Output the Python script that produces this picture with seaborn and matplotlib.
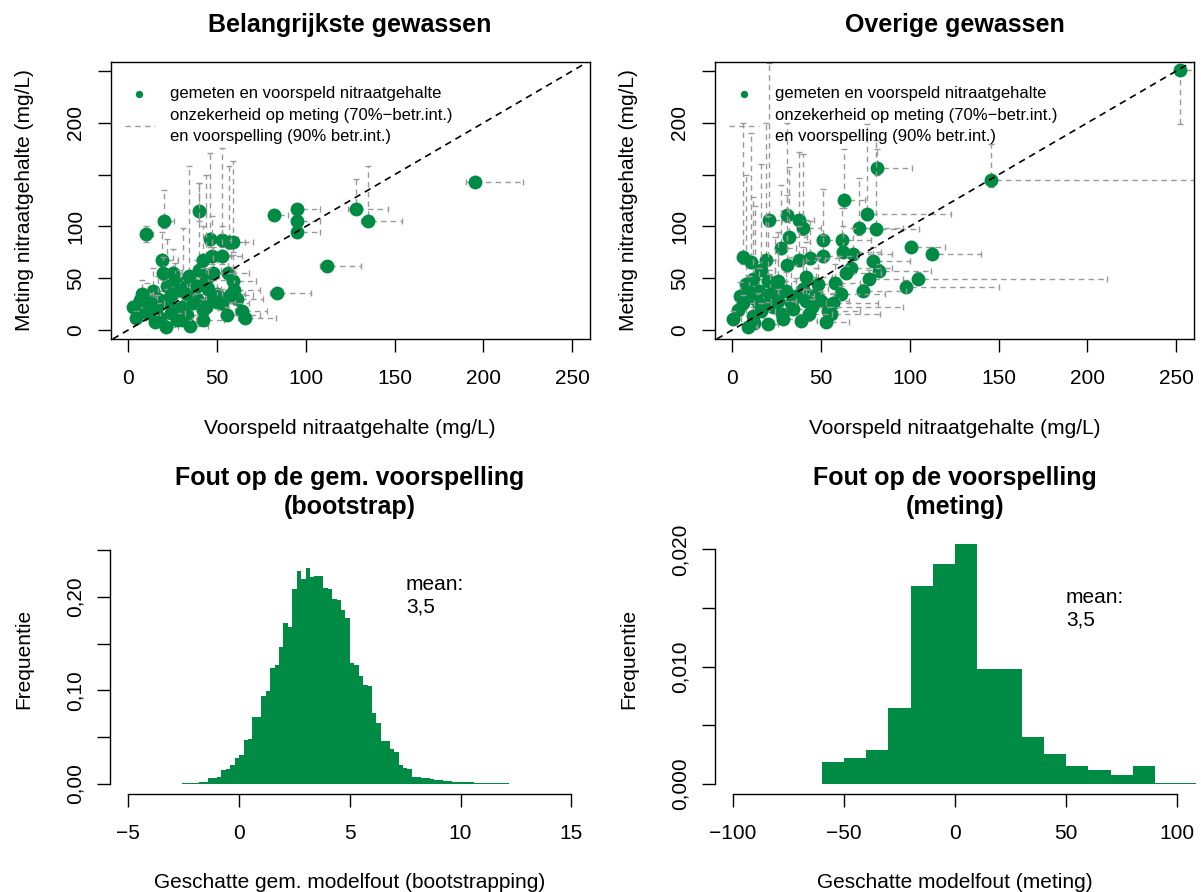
import numpy as np
import pandas as pd
import matplotlib
matplotlib.use("Agg")
import matplotlib.pyplot as plt
import seaborn as sns

# ---------------- data ----------------
# Top-left: "Belangrijkste gewassen"
tl_pred = [195, 82, 95, 95, 95, 128, 135, 112, 84, 40, 20, 10, 46, 57, 59, 53,
           14, 17, 22, 31, 39, 44, 56, 61, 7, 18, 26, 33, 46,
           2.5, 4.3, 6.6, 10.4, 10.4, 15, 16, 18.8, 19.7, 21, 21.6, 24.4, 25.4, 26.3,
           27.3, 29, 30, 33, 34, 35, 36.6, 38.5, 40, 42, 42, 42, 44, 47, 48, 50, 50,
           52.6, 52.6, 55.4, 57.3, 59, 59.6, 64, 66, 12, 8, 30, 24, 45]
tl_meas = [143, 111, 117, 105, 95, 117, 105, 62, 36, 115, 105, 93, 88, 85, 85, 87,
           38, 30, 42, 45, 30, 48, 55, 30, 18, 12, 20, 14, 28,
           22, 12, 29, 16, 31.5, 8, 22.5, 68, 55, 3, 29, 35, 55, 48,
           9.6, 38.6, 22.5, 35, 52, 4, 25.7, 42, 58, 9.6, 68, 19, 22.5, 71, 55, 35, 27,
           71, 26, 14.5, 34, 47, 39, 18, 12, 26, 35, 10, 16, 40]
tl_pred_lo = [190, 79, 92, 92, 92, 124, 131, 108, 80, 37, 17, 7, 43, 54, 56, 50,
              11, 14, 19, 28, 36, 41, 53, 58, 5, 15, 23, 30, 43,
              0, 2, 4, 8, 8, 12, 13, 16, 17, 18, 19, 22, 22, 24,
              25, 26, 27, 30, 31, 32, 33, 35, 37, 39, 39, 39, 41, 44, 45, 47, 47,
              50, 50, 52, 54, 56, 56, 60, 62, 10, 5, 27, 21, 42]
tl_pred_hi = [222, 90, 108, 108, 108, 146, 154, 131, 103, 44, 26, 14, 62, 70, 66, 58,
              22, 26, 32, 40, 50, 56, 68, 76, 12, 26, 34, 42, 58,
              8, 10, 14, 18, 20, 22, 24, 28, 30, 28, 30, 34, 35, 38,
              36, 40, 42, 44, 40, 45, 48, 48, 52, 54, 50, 55, 56, 58, 60, 66, 60,
              64, 68, 74, 70, 72, 74, 78, 83, 20, 14, 38, 32, 52]
tl_meas_lo = [140, 107, 113, 100, 90, 112, 100, 60, 34, 105, 98, 85, 80, 78, 75, 80,
              33, 26, 36, 40, 26, 42, 50, 26, 14, 8, 16, 10, 24,
              18, 8, 24, 12, 26, 5, 18, 60, 48, 1, 24, 30, 48, 42,
              6, 32, 18, 30, 46, 2, 20, 36, 52, 6, 60, 14, 18, 64, 48, 30, 22,
              64, 22, 10, 28, 40, 34, 14, 9, 22, 30, 6, 12, 35]
tl_meas_hi = [146, 115, 121, 110, 100, 146, 158, 64, 38, 142, 135, 100, 171, 158, 163, 176,
              60, 52, 88, 98, 62, 150, 72, 46, 26, 20, 30, 22, 40,
              28, 18, 40, 24, 45, 14, 34, 95, 70, 8, 40, 58, 78, 65,
              16, 58, 32, 48, 158, 10, 40, 68, 142, 16, 100, 30, 35, 110, 80, 50, 40,
              100, 40, 22, 50, 72, 60, 22, 16, 36, 48, 15, 22, 60]

# Top-right: "Overige gewassen"
tr_pred = [252, 145.7, 81.4, 62.7, 75.8, 71.5, 80.9, 20.6, 31.1, 37.4, 39.7, 31.8, 27.7,
           50.9, 61.8, 100.7, 112.7, 79, 82.8, 66.8, 64, 62.2, 67.8, 50.9, 44, 37.4,
           8, 13, 24, 18, 33, 47, 28, 12, 40, 54,
           6, 10.7, 19.1, 30.7, 16.3, 11.6, 20, 25.6, 41.6, 48.1, 58, 77.1, 104.8, 97.7,
           73.4, 61.2, 4.1, 9.7, 15.3, 21, 30.3, 36, 41.6, 50, 56.5, 3.2, 0.4, 8.8,
           11.6, 20, 28.4, 38.7, 52.8, 55.6, 22.8, 34, 43.4, 14.4, 45, 26, 6, 16]
tr_meas = [251, 145, 156.6, 125, 111.5, 98, 97.6, 106.6, 111, 106.3, 98.2, 89.5, 79,
           87.3, 87.3, 80, 73.4, 66.3, 57.3, 60, 54.7, 75, 73.4, 71.8, 69.6, 67.6,
           44, 30, 40, 24, 26, 35, 15, 7, 40, 18,
           70.8, 65.4, 67.6, 63, 58, 49.2, 47.6, 47.6, 51.5, 44.4, 45, 49.2, 49.5, 41.8,
           37.3, 34.7, 33, 36.4, 38, 34.7, 38, 33, 28.3, 28.3, 26, 19.3, 10.6, 3.2,
           13.8, 5.7, 10.6, 9, 7.3, 15.4, 21.8, 20.2, 15.4, 26.7, 22, 28, 26, 18]
tr_pred_lo = [250, 143, 79, 60, 73, 69, 78, 18, 28, 35, 37, 29, 25,
              48, 59, 98, 110, 76, 80, 64, 61, 59, 65, 48, 41, 35,
              5, 10, 21, 15, 30, 44, 25, 9, 37, 51,
              3, 8, 16, 28, 14, 9, 17, 23, 39, 45, 55, 74, 102, 95,
              70, 58, 2, 7, 12, 18, 27, 33, 39, 47, 53, 1, -1, 6,
              9, 17, 25, 36, 50, 52, 20, 31, 40, 12, 42, 23, 4, 13]
tr_pred_hi = [262, 262, 101, 75, 123, 96, 105, 28, 40, 46, 50, 42, 36,
              62, 78, 120, 140, 100, 112, 90, 84, 84, 90, 70, 60, 52,
              14, 20, 32, 28, 46, 64, 40, 18, 54, 72,
              10, 16, 26, 40, 24, 20, 30, 36, 56, 62, 72, 96, 211, 150,
              98, 86, 10, 16, 22, 30, 40, 46, 60, 66, 82, 8, 5, 14,
              18, 26, 36, 48, 66, 83, 32, 44, 56, 22, 96, 36, 12, 24]
tr_meas_lo = [199, 138, 150, 118, 106, 92, 92, 100, 104, 100, 92, 84, 73,
              82, 82, 76, 70, 62, 53, 56, 50, 70, 68, 66, 64, 62,
              40, 26, 36, 20, 22, 31, 11, 4, 36, 14,
              64, 60, 62, 58, 52, 44, 42, 42, 46, 40, 40, 45, 46, 38,
              34, 31, 28, 32, 33, 30, 33, 28, 24, 24, 22, 15, 6, 1,
              10, 3, 7, 6, 4, 12, 18, 16, 12, 22, 18, 24, 22, 14]
tr_meas_hi = [256, 180, 175, 175, 199, 147, 183, 258, 200, 172, 170, 157, 140,
              136, 118, 86, 80, 80, 64, 70, 62, 100, 98, 92, 105, 100,
              150, 120, 90, 60, 70, 60, 40, 16, 80, 30,
              200, 190, 200, 130, 160, 128, 110, 95, 85, 70, 64, 58, 56, 48,
              44, 42, 46, 52, 60, 54, 56, 50, 40, 38, 36, 28, 18, 8,
              22, 10, 16, 14, 12, 22, 30, 28, 22, 36, 30, 40, 34, 26]

# Bottom-left: bootstrap histogram (density per bin of width 0.2 from -2.6 to 12.2)
bl_edges = [round(-2.6 + 0.2 * i, 1) for i in range(75)]
bl_density = [0.0014, 0.0014, 0.0011, 0.0012, 0.0026, 0.0025, 0.0060, 0.0068, 0.0075, 0.0150,
              0.0162, 0.0205, 0.0280, 0.0310, 0.0470, 0.0485, 0.0712, 0.0712, 0.0945, 0.0990,
              0.1240, 0.1270, 0.1467, 0.1725, 0.1680, 0.2080, 0.2275, 0.2190, 0.2310, 0.2210,
              0.2225, 0.2220, 0.2100, 0.2080, 0.1975, 0.1965, 0.1860, 0.1770, 0.1290, 0.1270,
              0.1155, 0.1055, 0.1050, 0.0755, 0.0648, 0.0465, 0.0460, 0.0370, 0.0340, 0.0205,
              0.0170, 0.0165, 0.0080, 0.0072, 0.0068, 0.0064, 0.0052, 0.0048, 0.0038, 0.0036,
              0.0034, 0.0018, 0.0020, 0.0017, 0.0026, 0.0024, 0.0012, 0.0010, 0.0009, 0.0010,
              0.0008, 0.0008, 0.0009, 0.0010]

# Bottom-right: measurement error histogram (bins of width 10)
br_edges = [-60, -50, -40, -30, -20, -10, 0, 10, 20, 30, 40, 50, 60, 70, 80, 90, 100, 110]
br_density = [0.00185, 0.00222, 0.00293, 0.00651, 0.01687, 0.01871, 0.02048, 0.00976,
              0.00976, 0.00401, 0.00256, 0.00151, 0.00117, 0.00080, 0.00151, 0.00008, 0.00008]

# ---------------- style ----------------
sns.set_theme(style="white")
plt.rcParams['font.family'] = ['Liberation Sans', 'DejaVu Sans']
plt.rcParams['axes.unicode_minus'] = True
plt.rcParams['text.color'] = 'black'
plt.rcParams['axes.labelcolor'] = 'black'
plt.rcParams['xtick.color'] = 'black'
plt.rcParams['ytick.color'] = 'black'

GREEN = '#008B45'
GREY = '#9a9a9a'
W, H = 1201, 892
fig = plt.figure(figsize=(W / 100, H / 100), dpi=100)
fig.patch.set_facecolor('white')


def ax_at(l, t, r, b):
    return fig.add_axes([l / W, 1 - b / H, (r - l) / W, (b - t) / H])


def ftext(px, py, s, **kw):
    fig.text(px / W, 1 - py / H, s, color='black', **kw)


def style_ticks(ax):
    ax.tick_params(axis='both', which='both', direction='out', length=9.1, width=1.0,
                   color='black', labelsize=15, bottom=True, left=True,
                   top=False, right=False, labelcolor='black')
    ax.tick_params(axis='x', pad=12.5)
    ax.tick_params(axis='y', pad=9.5)
    for lab in ax.get_yticklabels():
        lab.set_rotation(90)
        lab.set_va('center')
        lab.set_ha('right')


def scatter_panel(ax, pred, meas, plo, phi, mlo, mhi, legend_x):
    pred = np.array(pred, float); meas = np.array(meas, float)
    plo = np.array(plo, float); phi = np.array(phi, float)
    mlo = np.array(mlo, float); mhi = np.array(mhi, float)
    # each point: its uncertainty bars first, then the point itself
    for i in range(len(pred)):
        eb = ax.errorbar([pred[i]], [meas[i]],
                         xerr=[[pred[i] - plo[i]], [phi[i] - pred[i]]],
                         yerr=[[meas[i] - mlo[i]], [mhi[i] - meas[i]]],
                         fmt='none', ecolor=GREY, elinewidth=1.0, capsize=2.3,
                         capthick=1.0, zorder=3 + 2 * i)
        for lc in eb[2]:
            lc.set_linestyle((0, (4, 3)))
        sns.scatterplot(x=[pred[i]], y=[meas[i]], ax=ax, color=GREEN, s=100,
                        linewidth=0, zorder=4 + 2 * i)
    ax.axline((0, 0), slope=1, color='black', lw=1.2, ls=(0, (4, 3)), zorder=1000)
    ax.set_xlim(-9.7, 260)
    ax.set_ylim(-8.7, 258.7)
    ax.set_xlabel('')
    ax.set_ylabel('')
    ax.set_xticks([0, 50, 100, 150, 200, 250])
    ax.set_xticklabels(['0', '50', '100', '150', '200', '250'])
    ax.set_yticks([0, 50, 100, 150, 200, 250])
    ax.set_yticklabels(['0', '50', '100', '', '200', ''])
    for sp in ax.spines.values():
        sp.set_visible(True)
        sp.set_color('black')
        sp.set_linewidth(1.0)
        sp.set_zorder(2000)
    style_ticks(ax)
    # legend (manual, no box)
    ax.scatter([legend_x[0]], [0.8845], transform=ax.transAxes, s=28, color=GREEN,
               linewidth=0, zorder=1001)
    ax.plot([0.029, 0.092], [0.77, 0.77], transform=ax.transAxes, color=GREY,
            ls=(0, (4, 3)), lw=1.0, zorder=1001)
    for yy, s in [(0.8845, 'gemeten en voorspeld nitraatgehalte'),
                  (0.806, 'onzekerheid op meting (70%\u2212betr.int.)'),
                  (0.730, 'en voorspelling (90% betr.int.)')]:
        ax.text(legend_x[1], yy, s, transform=ax.transAxes, fontsize=12, va='center',
                ha='left', color='black', zorder=1001)


def hist_panel(ax, edges, dens, xlim, ylim, xticks, xticklabels, yticks, yticklabels):
    e = np.asarray(edges, float)
    centers = (e[:-1] + e[1:]) / 2
    hdf = pd.DataFrame({'value': centers, 'density': np.asarray(dens, float)})
    sns.histplot(data=hdf, x='value', weights='density', bins=list(edges), stat='count',
                 element='step', fill=True, color=GREEN, alpha=1.0, linewidth=0, ax=ax)
    ax.set_xlim(*xlim)
    ax.set_ylim(*ylim)
    ax.set_xlabel('')
    ax.set_ylabel('')
    ax.set_xticks(xticks)
    ax.set_xticklabels(xticklabels)
    ax.set_yticks(yticks)
    ax.set_yticklabels(yticklabels)
    ax.spines['top'].set_visible(False)
    ax.spines['right'].set_visible(False)
    for side in ['left', 'bottom']:
        ax.spines[side].set_visible(True)
        ax.spines[side].set_color('black')
        ax.spines[side].set_linewidth(1.0)
    ax.spines['left'].set_bounds(yticks[0], yticks[-1])
    ax.spines['bottom'].set_bounds(xticks[0], xticks[-1])
    ax.patch.set_alpha(0)
    style_ticks(ax)


# ---------------- panels ----------------
ax1 = ax_at(111, 62, 590, 339)
scatter_panel(ax1, tl_pred, tl_meas, tl_pred_lo, tl_pred_hi, tl_meas_lo, tl_meas_hi,
              (0.059, 0.123))
ax2 = ax_at(715, 62, 1194, 339)
scatter_panel(ax2, tr_pred, tr_meas, tr_pred_lo, tr_pred_hi, tr_meas_lo, tr_meas_hi,
              (0.061, 0.1253))

ax3 = ax_at(110, 524, 589, 794)
hist_panel(ax3, bl_edges, bl_density, (-5.83, 15.8), (-0.0107, 0.278),
           [-5, 0, 5, 10, 15], ['\u22125', '0', '5', '10', '15'],
           [0, 0.05, 0.10, 0.15, 0.20, 0.25], ['0,00', '', '0,10', '', '0,20', ''])
ax4 = ax_at(715, 524, 1195, 794)
hist_panel(ax4, br_edges, br_density, (-108, 108), (-0.000853, 0.02216),
           [-100, -50, 0, 50, 100], ['\u2212100', '\u221250', '0', '50', '100'],
           [0, 0.005, 0.010, 0.015, 0.020], ['0,000', '', '0,010', '', '0,020'])

# ---------------- texts ----------------
ftext(350, 32, 'Belangrijkste gewassen', ha='center', va='baseline', fontsize=18,
      fontweight='bold')
ftext(955, 32, 'Overige gewassen', ha='center', va='baseline', fontsize=18,
      fontweight='bold')
ftext(350, 485, 'Fout op de gem. voorspelling', ha='center', va='baseline', fontsize=18,
      fontweight='bold')
ftext(350, 514, '(bootstrap)', ha='center', va='baseline', fontsize=18, fontweight='bold')
ftext(955, 485, 'Fout op de voorspelling', ha='center', va='baseline', fontsize=18,
      fontweight='bold')
ftext(955, 514, '(meting)', ha='center', va='baseline', fontsize=18, fontweight='bold')

ftext(350, 428, 'Voorspeld nitraatgehalte (mg/L)', ha='center', va='center', fontsize=15)
ftext(955, 428, 'Voorspeld nitraatgehalte (mg/L)', ha='center', va='center', fontsize=15)
ftext(25, 200, 'Meting nitraatgehalte (mg/L)', ha='center', va='center', fontsize=15,
      rotation=90)
ftext(629, 200, 'Meting nitraatgehalte (mg/L)', ha='center', va='center', fontsize=15,
      rotation=90)

ftext(350, 883, 'Geschatte gem. modelfout (bootstrapping)', ha='center', va='center',
      fontsize=15)
ftext(955, 883, 'Geschatte modelfout (meting)', ha='center', va='center', fontsize=15)
ftext(24, 659, 'Frequentie', ha='center', va='center', fontsize=15, rotation=90)
ftext(629, 659, 'Frequentie', ha='center', va='center', fontsize=15, rotation=90)

ftext(406, 575, 'mean:\n3,5', ha='left', va='top', fontsize=15, linespacing=1.25)
ftext(1066, 588, 'mean:\n3,5', ha='left', va='top', fontsize=15, linespacing=1.25)

fig.savefig('out.png', dpi=100, facecolor='white')
